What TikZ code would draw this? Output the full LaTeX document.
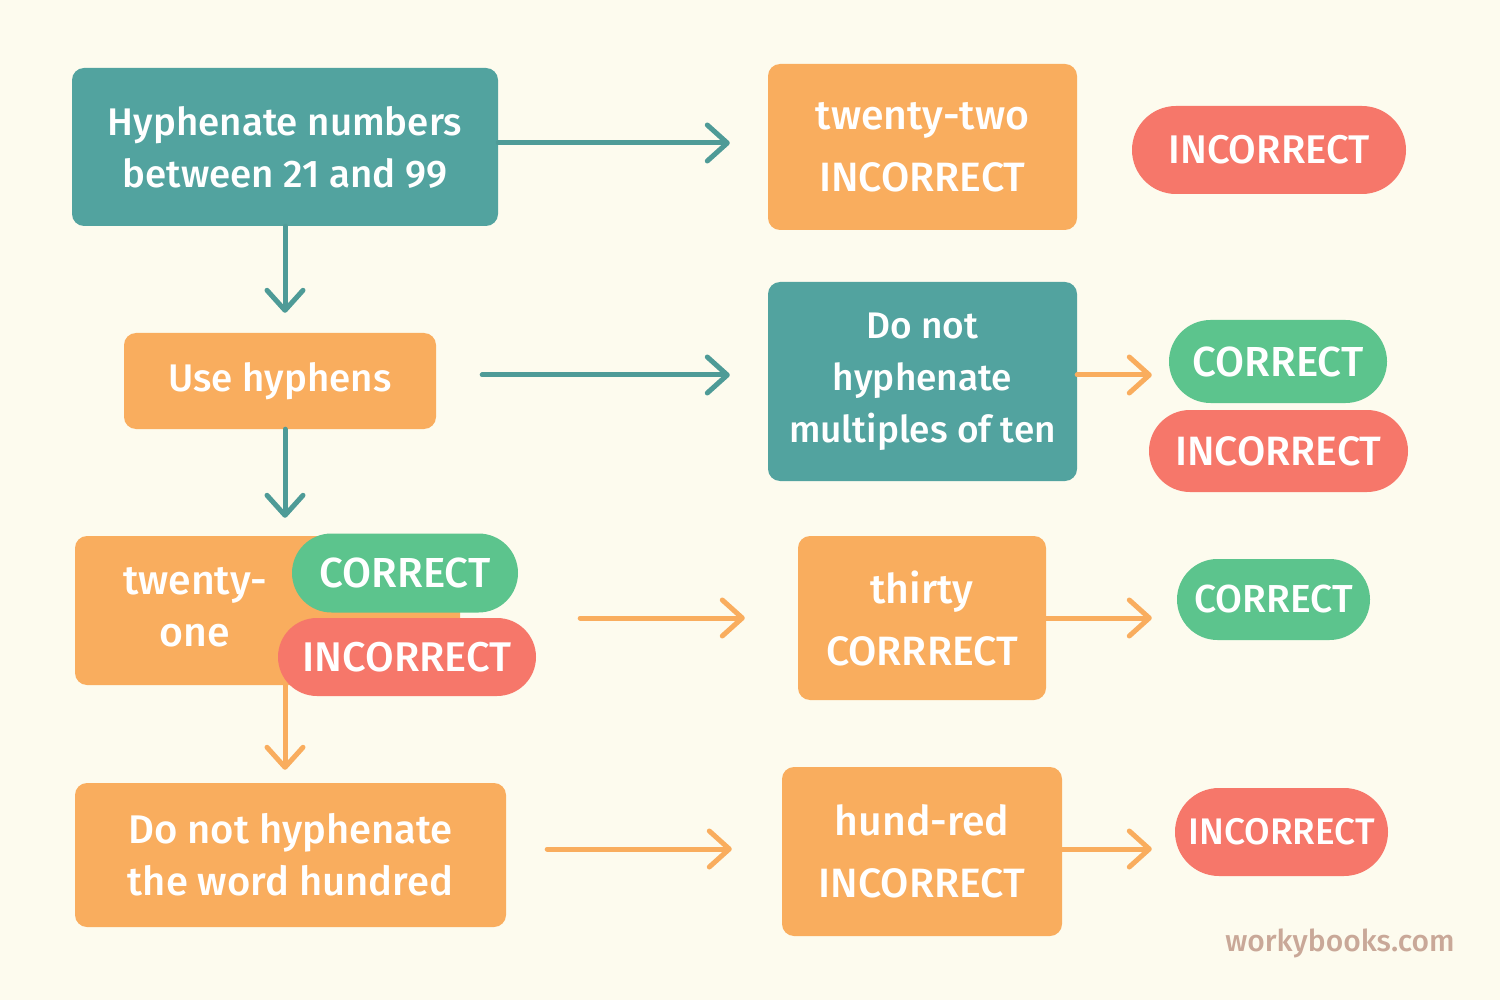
\documentclass[tikz,border=0pt]{standalone}
\usepackage{fontspec}
\setmainfont{Fira Sans}[UprightFont=* Medium]
\usetikzlibrary{shapes.misc,arrows.meta}

\definecolor{bgcol}{HTML}{FDFBEE}
\definecolor{tealbox}{HTML}{52A39F}
\definecolor{orangebox}{HTML}{F9AD5E}
\definecolor{greenpill}{HTML}{5CC48D}
\definecolor{redpill}{HTML}{F6776A}
\definecolor{markcol}{HTML}{C9A898}

\begin{document}
\begin{tikzpicture}[x=1pt,y=-1pt,line cap=round,
  box/.style={rectangle,rounded corners=12pt,inner sep=0pt,align=center,text=white,
    font=\fontsize{38.5}{52}\selectfont},
  wide lines/.style={font=\fontsize{41}{62}\selectfont},
  teal box/.style={box,fill=tealbox},
  orange box/.style={box,fill=orangebox},
  pill/.style={rounded rectangle,inner sep=0pt,text=white,font=\fontsize{41}{44}\selectfont},
  good/.style={pill,fill=greenpill},
  bad/.style={pill,fill=redpill},
  tarrow/.style={-{Straight Barb[length=20pt,width=36pt,round]},line width=5pt,draw=tealbox!95!black},
  oarrow/.style={-{Straight Barb[length=20pt,width=36pt,round]},line width=5pt,draw=orangebox}]

  \fill[bgcol] (0,0) rectangle (1500,1000);

  % left column
  \node[teal box,minimum width=426pt,minimum height=158pt] (hyph) at (285,147) {Hyphenate numbers\\between 21 and 99};
  \node[orange box,minimum width=312pt,minimum height=96pt] (hyphens) at (280,381) {Use hyphens};
  \node[orange box,minimum width=385pt,minimum height=149pt] (twone) at (267.5,610.5) {};
  \node[box,font=\fontsize{41}{52}\selectfont] (twonetext) at (195,607) {twenty-\\one};
  \node[good,minimum width=226pt,minimum height=79pt,font=\fontsize{42}{44}\selectfont] (c1) at (405,573) {CORRECT};
  \node[bad,minimum width=258pt,minimum height=78pt,font=\fontsize{41.5}{44}\selectfont] (i1) at (407,657) {INCORRECT};
  \node[orange box,minimum width=431pt,minimum height=144pt,font=\fontsize{40}{52}\selectfont] (hund) at (290.5,855) {Do not hyphenate\\the word hundred};

  % middle column
  \node[orange box,wide lines,minimum width=309pt,minimum height=166pt] (twtwo) at (922.5,147) {twenty-two\\INCORRECT};
  \node[teal box,minimum width=309pt,minimum height=199pt,font=\fontsize{37}{52}\selectfont] (multten) at (922.5,381.5) {Do not\\hyphenate\\multiples of ten};
  \node[orange box,wide lines,minimum width=248pt,minimum height=164pt] (thirty) at (922,618) {thirty\\CORRRECT};
  \node[orange box,wide lines,minimum width=280pt,minimum height=169pt] (hundred) at (922,851.5) {hund-red\\INCORRECT};

  % right column
  \node[bad,minimum width=274pt,minimum height=88pt,font=\fontsize{40}{44}\selectfont] (i0) at (1269,150) {INCORRECT};
  \node[good,minimum width=218pt,minimum height=83pt,font=\fontsize{42}{44}\selectfont] (c2) at (1278,361.5) {CORRECT};
  \node[bad,minimum width=259pt,minimum height=82pt] (i2) at (1278.5,451) {INCORRECT};
  \node[good,minimum width=193pt,minimum height=81pt,font=\fontsize{39}{44}\selectfont] (c3) at (1273.5,599.5) {CORRECT};
  \node[bad,minimum width=213pt,minimum height=88pt,font=\fontsize{37}{44}\selectfont] (i3) at (1281.5,832) {INCORRECT};

  \node[text=markcol,font=\fontsize{30}{34}\selectfont] (mark) at (1340,943) {workybooks.com};

  % connectors
  \draw[tarrow,shorten >=38pt] ([yshift=4pt]hyph.east) -- ([yshift=4pt]hyph.east -| twtwo.west);
  \draw[tarrow,shorten >=20pt] (hyph.south) -- (hyph.south |- hyphens.north);
  \draw[tarrow,shorten <=46pt,shorten >=38pt] ([yshift=6pt]hyphens.east) -- ([yshift=6pt]hyphens.east -| multten.west);
  \draw[tarrow,shorten >=18pt] (hyph.south |- hyphens.south) -- (hyph.south |- twone.north);
  \draw[oarrow,shorten >=17pt] ([yshift=6.5pt]multten.east) -- ([yshift=6.5pt]multten.east -| c2.west);
  \draw[oarrow,shorten <=120pt,shorten >=53pt] ([yshift=-7.5pt]twone.east) -- ([yshift=-7.5pt]twone.east -| thirty.west);
  \draw[oarrow,shorten >=25pt] (thirty.east) -- (thirty.east -| c3.west);
  \draw[oarrow,shorten >=13pt] (hyph.south |- twone.south) -- (hyph.south |- hund.north);
  \draw[oarrow,shorten <=41pt,shorten >=50pt] ([yshift=6pt]hund.east) -- ([yshift=6pt]hund.east -| hundred.west);
  \draw[oarrow,shorten >=23pt] ([yshift=2.5pt]hundred.east) -- ([yshift=2.5pt]hundred.east -| i3.west);
\end{tikzpicture}
\end{document}
